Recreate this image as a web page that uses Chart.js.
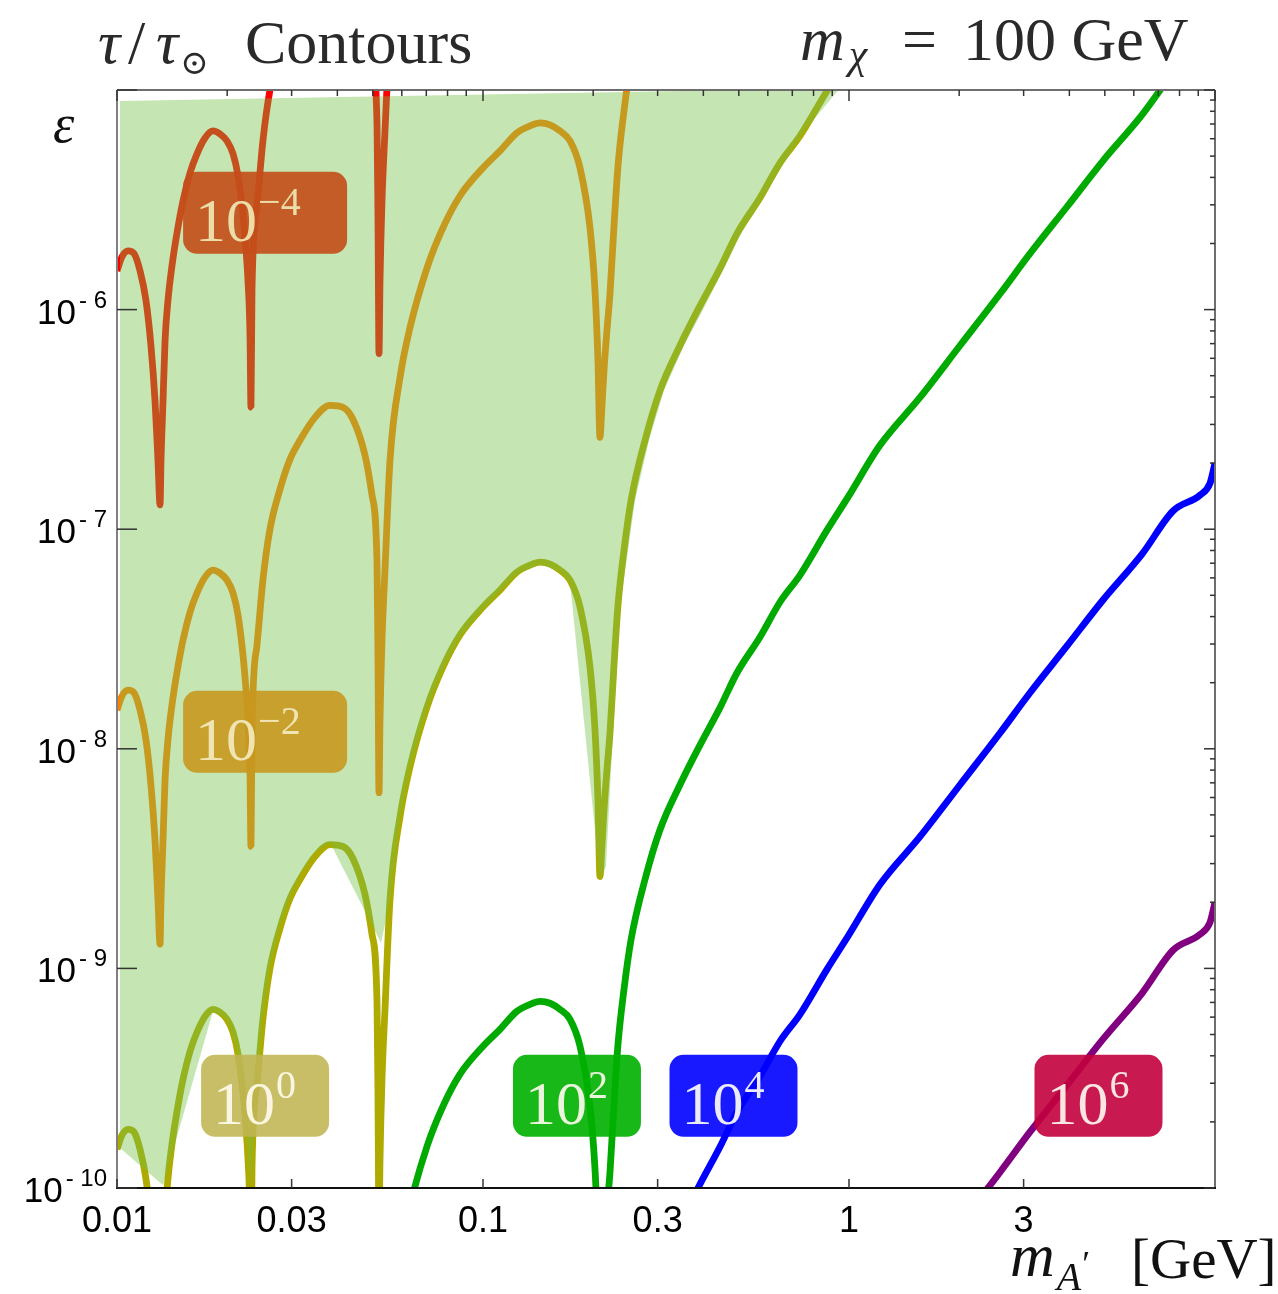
<!DOCTYPE html>
<html>
<head>
<meta charset="utf-8">
<script src="https://cdn.jsdelivr.net/npm/chart.js@4.4.1/dist/chart.umd.min.js"></script>
<style>
html,body{margin:0;padding:0;background:#ffffff;}
#wrap{position:relative;width:1278px;height:1294px;}
</style>
</head>
<body>
<div id="wrap"><canvas id="c"></canvas></div>
<script>
// ---------------- DATA ----------------
// dark photon mass m_A' [GeV]
const massGeV = [
 0.01000,0.01032,0.01072,0.01113,0.01156,0.01200,0.01238,0.01270,0.01294,0.01311,
 0.01319,0.01336,0.01353,0.01378,0.01413,0.01459,0.01515,0.01583,0.01654,0.01740,
 0.01829,0.01912,0.01998,0.02075,0.02141,0.02209,0.02252,0.02280,0.02309,0.02323,
 0.02338,0.02413,0.02506,0.02618,0.02788,0.02969,0.03162,0.03475,0.03819,0.04145,
 0.04414,0.04760,0.04974,0.05133,0.05166,0.05198,0.05231,0.05297,0.05398,0.05571,
 0.05933,0.06318,0.07033,0.07776,0.08655,0.1000,0.1113,0.1238,0.1344,0.1432,
 0.1525,0.1623,0.1729,0.1841,0.1960,0.2023,0.2061,0.2087,0.2114,0.2141,
 0.2181,0.2223,0.2280,0.2338,0.2428,0.2538,0.2771,0.3045,0.3453,0.3916,
 0.4442,0.4944,0.5714,0.6480,0.7348,0.8707,0.9937,1.215,1.563,2.011,
 2.586,3.123,3.941,4.943,6.318,7.678,9.102,9.691,10.00
];
// kinetic mixing epsilon on each tau/tau_sun contour
const epsTau1em4 = [
 1.50e-6,1.74e-6,1.85e-6,1.80e-6,1.50e-6,1.10e-6,6.86e-7,3.86e-7,2.06e-7,1.29e-7,
 2.06e-7,3.86e-7,7.23e-7,1.10e-6,1.58e-6,2.24e-6,3.13e-6,4.19e-6,5.12e-6,6.05e-6,
 6.51e-6,6.31e-6,5.86e-6,5.12e-6,4.07e-6,2.68e-6,1.85e-6,1.35e-6,7.62e-7,3.59e-7,
 1.23e-6,2.97e-6,5.93e-6,1.00e-5,1.52e-5,2.08e-5,2.54e-5,3.23e-5,3.66e-5,3.59e-5,
 3.16e-5,2.17e-5,1.43e-5,7.08e-6,2.49e-6,6.31e-7,1.35e-6,3.13e-6,6.51e-6,2.06e-5,
 null,null,null,null,null,null,null,null,null,null,
 null,null,null,null,null,null,null,null,null,null,
 null,null,null,null,null,null,null,null,null,null,
 null,null,null,null,null,null,null,null,null,null,
 null,null,null,null,null,null,null,null,null
];
const epsTau1em2 = [
 1.50e-8,1.74e-8,1.85e-8,1.80e-8,1.50e-8,1.10e-8,6.86e-9,3.86e-9,2.06e-9,1.29e-9,
 2.06e-9,3.86e-9,7.23e-9,1.10e-8,1.58e-8,2.24e-8,3.13e-8,4.19e-8,5.12e-8,6.05e-8,
 6.51e-8,6.31e-8,5.86e-8,5.12e-8,4.07e-8,2.68e-8,1.85e-8,1.35e-8,7.62e-9,3.59e-9,
 1.23e-8,2.97e-8,5.93e-8,1.00e-7,1.52e-7,2.08e-7,2.54e-7,3.23e-7,3.66e-7,3.59e-7,
 3.16e-7,2.17e-7,1.43e-7,7.08e-8,2.49e-8,6.31e-9,1.35e-8,3.13e-8,6.51e-8,2.06e-7,
 4.91e-7,8.28e-7,1.55e-6,2.36e-6,3.30e-6,4.42e-6,5.28e-6,6.38e-6,6.86e-6,7.08e-6,
 6.94e-6,6.51e-6,5.86e-6,4.42e-6,2.36e-6,1.22e-6,5.86e-7,2.62e-7,3.66e-7,5.28e-7,
 8.03e-7,1.18e-6,2.41e-6,4.51e-6,8.03e-6,1.35e-5,2.54e-5,null,null,null,
 null,null,null,null,null,null,null,null,null,null,
 null,null,null,null,null,null,null,null,null
];
const epsTau1e0 = [
 1.50e-10,1.74e-10,1.85e-10,1.80e-10,1.50e-10,1.10e-10,6.86e-11,3.86e-11,2.06e-11,1.29e-11,
 2.06e-11,3.86e-11,7.23e-11,1.10e-10,1.58e-10,2.24e-10,3.13e-10,4.19e-10,5.12e-10,6.05e-10,
 6.51e-10,6.31e-10,5.86e-10,5.12e-10,4.07e-10,2.68e-10,1.85e-10,1.35e-10,7.62e-11,3.59e-11,
 1.23e-10,2.97e-10,5.93e-10,1.00e-9,1.52e-9,2.08e-9,2.54e-9,3.23e-9,3.66e-9,3.59e-9,
 3.16e-9,2.17e-9,1.43e-9,7.08e-10,2.49e-10,6.31e-11,1.35e-10,3.13e-10,6.51e-10,2.06e-9,
 4.91e-9,8.28e-9,1.55e-8,2.36e-8,3.30e-8,4.42e-8,5.28e-8,6.38e-8,6.86e-8,7.08e-8,
 6.94e-8,6.51e-8,5.86e-8,4.42e-8,2.36e-8,1.22e-8,5.86e-9,2.62e-9,3.66e-9,5.28e-9,
 8.03e-9,1.18e-8,2.41e-8,4.51e-8,8.03e-8,1.35e-7,2.54e-7,4.28e-7,6.86e-7,1.04e-6,
 1.54e-6,2.22e-6,3.23e-6,4.66e-6,6.18e-6,9.90e-6,1.40e-5,2.41e-5,null,null,
 null,null,null,null,null,null,null,null,null
];
const epsTau1e2 = [
 null,null,null,null,null,null,null,null,null,null,
 null,null,null,null,null,null,null,null,null,null,
 null,null,null,null,null,null,null,null,null,null,
 null,null,null,null,null,null,null,null,null,null,
 null,null,null,null,null,null,null,null,null,2.06e-11,
 4.91e-11,8.28e-11,1.55e-10,2.36e-10,3.30e-10,4.42e-10,5.28e-10,6.38e-10,6.86e-10,7.08e-10,
 6.94e-10,6.51e-10,5.86e-10,4.42e-10,2.36e-10,1.22e-10,5.86e-11,2.62e-11,3.66e-11,5.28e-11,
 8.03e-11,1.18e-10,2.41e-10,4.51e-10,8.03e-10,1.35e-9,2.54e-9,4.28e-9,6.86e-9,1.04e-8,
 1.54e-8,2.22e-8,3.23e-8,4.66e-8,6.18e-8,9.90e-8,1.40e-7,2.41e-7,3.98e-7,6.86e-7,
 1.18e-6,1.80e-6,2.94e-6,4.76e-6,7.70e-6,1.21e-5,null,null,null
];
const epsTau1e4 = [
 null,null,null,null,null,null,null,null,null,null,
 null,null,null,null,null,null,null,null,null,null,
 null,null,null,null,null,null,null,null,null,null,
 null,null,null,null,null,null,null,null,null,null,
 null,null,null,null,null,null,null,null,null,null,
 null,null,null,null,null,null,null,null,null,null,
 null,null,null,null,null,null,null,null,null,null,
 null,null,null,null,null,null,null,4.28e-11,6.86e-11,1.04e-10,
 1.54e-10,2.22e-10,3.23e-10,4.66e-10,6.18e-10,9.90e-10,1.40e-9,2.41e-9,3.98e-9,6.86e-9,
 1.18e-8,1.80e-8,2.94e-8,4.76e-8,7.70e-8,1.21e-7,1.43e-7,1.62e-7,2.00e-7
];
const epsTau1e6 = [
 null,null,null,null,null,null,null,null,null,null,
 null,null,null,null,null,null,null,null,null,null,
 null,null,null,null,null,null,null,null,null,null,
 null,null,null,null,null,null,null,null,null,null,
 null,null,null,null,null,null,null,null,null,null,
 null,null,null,null,null,null,null,null,null,null,
 null,null,null,null,null,null,null,null,null,null,
 null,null,null,null,null,null,null,null,null,null,
 null,null,null,null,null,null,null,2.41e-11,3.98e-11,6.86e-11,
 1.18e-10,1.80e-10,2.94e-10,4.76e-10,7.70e-10,1.21e-9,1.43e-9,1.62e-9,2.00e-9
];
// shaded (green) region outline
const regionMassGeV = [
 0.01019,0.01019,0.01336,0.01829,0.01998,0.02128,0.02209,0.02280,0.02323,0.02338,
 0.02413,0.02506,0.02618,0.02788,0.02969,0.03162,0.03475,0.03819,0.05264,0.05571,
 0.05933,0.06318,0.07033,0.07776,0.08655,0.1000,0.1238,0.1432,0.1623,0.1729,
 0.2087,0.2168,0.2265,0.2383,0.2602,0.2842,0.3122,0.3541,0.4016,0.4555,
 0.5070,0.5860,0.6645,0.7535,0.9450
];
const regionEps = [
 8.91e-6,1.52e-10,1.03e-10,6.38e-10,5.86e-10,4.28e-10,2.54e-10,1.50e-10,1.03e-10,1.26e-10,
 3.03e-10,6.05e-10,1.02e-9,1.55e-9,2.12e-9,2.68e-9,3.40e-9,3.74e-9,1.31e-9,2.02e-9,
 4.81e-9,8.11e-9,1.52e-8,2.31e-8,3.23e-8,4.33e-8,6.24e-8,6.94e-8,6.38e-8,5.74e-8,
 2.54e-9,2.91e-9,1.18e-8,4.76e-8,1.35e-7,2.54e-7,4.28e-7,6.86e-7,1.02e-6,1.54e-6,
 2.22e-6,3.30e-6,4.66e-6,6.51e-6,1.02e-5
];
// contour labels and tick labels
const contourExponents = ['−4','−2','0','2','4','6'];
const xTickValues = [0.01, 0.03, 0.1, 0.3, 1, 3];
const xTickLabels = ['0.01', '0.03', '0.1', '0.3', '1', '3'];
const yTickExponents = [-6, -7, -8, -9, -10];

// ---------------- styling / placement ----------------
const seriesStyle = [
  {eps: epsTau1em4, color: 'rgb(255,0,0)'},
  {eps: epsTau1em2, color: 'rgb(255,127,0)'},
  {eps: epsTau1e0,  color: 'rgb(174,170,0)'},
  {eps: epsTau1e2,  color: 'rgb(0,170,0)'},
  {eps: epsTau1e4,  color: 'rgb(0,0,255)'},
  {eps: epsTau1e6,  color: 'rgb(128,0,128)'}
];
// label boxes: anchor (centre) in data space, box width in px
const labelBoxes = [
  {m: 0.02539, e: 2.76e-6,  w: 164, fill: 'rgba(196,77,24,0.9)',  text: 'rgba(236,220,168,1)'},
  {m: 0.02539, e: 1.195e-8, w: 164, fill: 'rgba(200,152,30,0.9)', text: 'rgba(240,228,178,1)'},
  {m: 0.02539, e: 2.63e-10, w: 128, fill: 'rgba(194,181,83,0.88)', text: 'rgba(250,246,225,1)'},
  {m: 0.1806,  e: 2.63e-10, w: 128, fill: 'rgba(0,176,0,0.9)',    text: 'rgba(235,245,220,1)'},
  {m: 0.4835,  e: 2.63e-10, w: 128, fill: 'rgba(0,0,255,0.9)',    text: 'rgba(235,235,250,1)'},
  {m: 4.805,   e: 2.63e-10, w: 128, fill: 'rgba(194,0,61,0.9)',   text: 'rgba(250,230,225,1)'}
];
const SERIF = '"Liberation Serif","DejaVu Serif",serif';
const SANS = '"Liberation Sans",Arial,sans-serif';

const toPoints = (xs, ys) => xs.map((m, i) => (ys[i] == null ? null : {x: m, y: ys[i]})).filter(p => p);

const datasets = [
  {
    label: 'region',
    data: toPoints(regionMassGeV, regionEps),
    fill: 'shape',
    backgroundColor: 'rgba(115,192,72,0.416)',
    borderWidth: 0,
    borderColor: 'rgba(0,0,0,0)',
    pointRadius: 0,
    tension: 0
  }
].concat(seriesStyle.map((s, i) => ({
  label: 'tau/tau_sun = 10^' + contourExponents[i],
  data: toPoints(massGeV, s.eps),
  borderColor: s.color,
  backgroundColor: s.color,
  borderWidth: 6.8,
  borderJoinStyle: 'bevel',
  borderCapStyle: 'butt',
  cubicInterpolationMode: 'monotone',
  pointRadius: 0,
  fill: false
})));

function seg(ctx, x1, y1, x2, y2) { ctx.beginPath(); ctx.moveTo(x1, y1); ctx.lineTo(x2, y2); ctx.stroke(); }
function txt(ctx, s, x, y, font, color) { ctx.font = font; ctx.fillStyle = color; ctx.fillText(s, x, y); return x + ctx.measureText(s).width; }

const decor = {
  id: 'decor',
  afterDatasetsDraw(chart) {
    const {ctx, chartArea: a} = chart;
    const xs = chart.scales.x, ys = chart.scales.y;
    ctx.save();
    ctx.textBaseline = 'alphabetic';
    ctx.textAlign = 'left';
    // frame
    ctx.lineWidth = 2;
    ctx.strokeStyle = '#6e6e6e';
    seg(ctx, a.left, a.top, a.right, a.top);
    seg(ctx, a.right, a.top, a.right, a.bottom);
    ctx.strokeStyle = '#808080';
    seg(ctx, a.left, a.top, a.left, a.bottom);
    ctx.strokeStyle = '#111';
    seg(ctx, a.left - 1, a.bottom, a.right + 1, a.bottom);
    // ticks
    ctx.strokeStyle = '#333';
    ctx.lineWidth = 1.5;
    for (let n = -2; n <= 1; n++) {
      for (let k = 1; k <= 9; k++) {
        const v = k * Math.pow(10, n);
        if (v < 0.00999 || v > 10.001) continue;
        const px = xs.getPixelForValue(v);
        seg(ctx, px, a.top, px, a.top + (k === 1 ? 11 : 6));
      }
    }
    for (let n = -10; n <= -5; n++) {
      for (let k = 1; k <= 9; k++) {
        const v = k * Math.pow(10, n);
        if (v > 1.0001e-5) continue;
        const py = ys.getPixelForValue(v);
        seg(ctx, a.right - (k === 1 ? 11 : 5), py, a.right, py);
      }
      const py = ys.getPixelForValue(Math.pow(10, n));
      seg(ctx, a.left, py, a.left + 20, py);
    }
    xTickValues.forEach(v => { const px = xs.getPixelForValue(v); seg(ctx, px, a.bottom, px, a.bottom - 9); });
    // tick labels
    ctx.textAlign = 'center';
    xTickValues.forEach((v, i) => txt(ctx, xTickLabels[i], xs.getPixelForValue(v), a.bottom + 44, '36px ' + SANS, '#000'));
    ctx.textAlign = 'left';
    yTickExponents.forEach(e => {
      const py = ys.getPixelForValue(Math.pow(10, e));
      const sup = '- ' + String(-e);
      ctx.font = '24px ' + SANS; const ws = ctx.measureText(sup).width;
      ctx.font = '35px ' + SANS; const wb = ctx.measureText('10').width;
      const right = a.left - 10;
      txt(ctx, sup, right - ws, py - 2, '24px ' + SANS, '#000');
      txt(ctx, '10', right - ws - 3 - wb, py + 14, '35px ' + SANS, '#000');
    });
    // contour label boxes
    labelBoxes.forEach((b, i) => {
      const cx = xs.getPixelForValue(b.m), cy = ys.getPixelForValue(b.e);
      const left = cx - b.w / 2, top = cy - 41;
      ctx.fillStyle = b.fill;
      ctx.beginPath();
      ctx.roundRect(left, top, b.w, 82, 14);
      ctx.fill();
      const endX = txt(ctx, '10', left + 12, top + 69, '62px ' + SERIF, b.text);
      txt(ctx, contourExponents[i], endX + 1, top + 43, '40px ' + SERIF, b.text);
    });
    // titles
    const dark = '#2a2a2a';
    let x = txt(ctx, 'τ', 98, 63, 'italic 62px ' + SERIF, dark);
    x = txt(ctx, '/', 128, 63, '62px ' + SERIF, dark);
    x = txt(ctx, 'τ', 156, 63, 'italic 62px ' + SERIF, dark);
    txt(ctx, '⊙', x + 2, 74, '34px ' + SERIF, dark);
    txt(ctx, 'Contours', 245, 63, '62px ' + SERIF, dark);
    x = txt(ctx, 'm', 800, 60, 'italic 62px ' + SERIF, dark);
    txt(ctx, 'χ', x + 4, 68, 'italic 42px ' + SERIF, dark);
    txt(ctx, '=', 902, 60, '62px ' + SERIF, dark);
    txt(ctx, '100 GeV', 963, 60, '62px ' + SERIF, dark);
    // axis titles
    txt(ctx, 'ε', 53, 142, 'italic 54px ' + SERIF, '#111');
    x = txt(ctx, 'm', 1010, 1276, 'italic 62px ' + SERIF, '#111');
    x = txt(ctx, 'A', x + 2, 1290, 'italic 40px ' + SERIF, '#111');
    txt(ctx, '′', x + 1, 1276, '36px ' + SERIF, '#111');
    txt(ctx, '[GeV]', 1131, 1278, '57px ' + SERIF, '#111');
    ctx.restore();
  }
};

new Chart(document.getElementById('c'), {
  type: 'line',
  data: {datasets},
  options: {
    responsive: true,
    maintainAspectRatio: false,
    devicePixelRatio: 1,
    animation: false,
    events: [],
    layout: {padding: {left: 117, top: 90, right: 63, bottom: 106}},
    plugins: {legend: {display: false}, tooltip: {enabled: false}, title: {display: false}},
    scales: {
      x: {type: 'logarithmic', min: 0.01, max: 10, display: false},
      y: {type: 'logarithmic', min: 1e-10, max: 1e-5, display: false}
    }
  },
  plugins: [decor]
});
</script>
</body>
</html>
